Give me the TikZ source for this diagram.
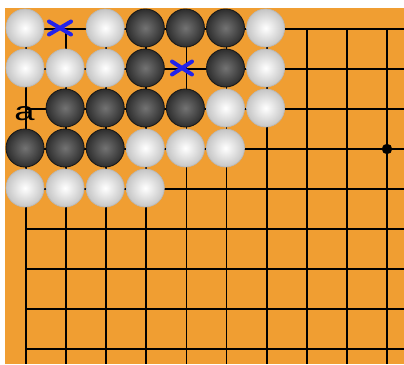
\documentclass[tikz,border=0pt]{standalone}
\usepackage{fontspec}
\setsansfont{Liberation Sans}
\definecolor{board}{RGB}{240,158,50}
\definecolor{markblue}{RGB}{35,35,235}
\tikzset{
  gridline/.style={line width=1.8pt, black},
  blackstone/.style={circle, minimum size=38pt, inner sep=0pt, draw=black!90,
    line width=0.9pt, inner color=black!55, outer color=black!82},
  whitestone/.style={circle, minimum size=38pt, inner sep=0pt, draw=gray!55,
    line width=0.7pt, inner color=white, outer color=gray!45},
  crossmark/.style={markblue, line width=4pt, line cap=round},
}
\begin{document}
\begin{tikzpicture}[x=1pt, y=-1pt]
            \useasboundingbox (0,0) rectangle (404,364);
            \fill[white] (0,0) rectangle (404,364);
            \fill[board] (5,8) rectangle (404,364);
            
            % board lines, top-left corner
            \foreach \i in {0,...,9}
                \draw[gridline] ({26+40.1*\i},29) -- ({26+40.1*\i},364);
            \foreach \j in {0,...,8}
                \draw[gridline] (26,{29+40*\j}) -- (404,{29+40*\j});
            
            \fill (387,149) circle (5.2);
            
            % white stones
            \foreach \c/\r in {0/0,2/0,6/0,0/1,1/1,2/1,6/1,5/2,6/2,3/3,4/3,5/3,0/4,1/4,2/4,3/4}
                \node[whitestone] (w\c\r) at ({25+40.1*\c},{28+40*\r}) {};
            
            % black stones
            \foreach \c/\r in {3/0,4/0,5/0,3/1,5/1,1/2,2/2,3/2,4/2,0/3,1/3,2/3}
                \node[blackstone] (b\c\r) at ({25+40.1*\c},{28+40*\r}) {};
            
            \node[font=\sffamily\fontsize{26}{26}\selectfont] (pointa) at (24.5,113.5)
                {\scalebox{1.4}[1]{a}};
            
            \coordinate (cross1) at (60,28);
            \coordinate (cross2) at (182,68);
            \draw[crossmark] (cross1) +(-11,-6.5) -- +(11,6.5)
                             (cross1) +(-11,6.5) -- +(11,-6.5);
            \draw[crossmark] (cross2) +(-10,-6.5) -- +(10,6.5)
                             (cross2) +(-10,6.5) -- +(10,-6.5);
        \end{tikzpicture}
\end{document}
